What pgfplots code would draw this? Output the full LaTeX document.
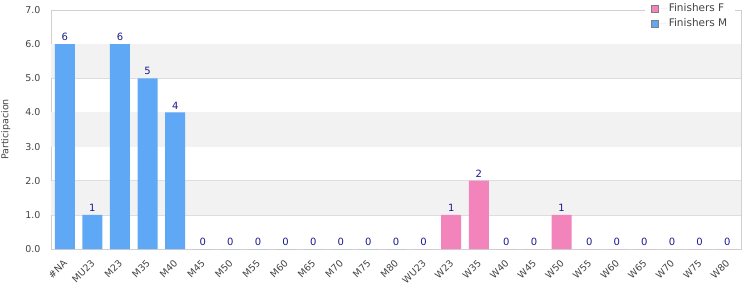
\documentclass[border=0pt]{standalone}
\usepackage{pgfplots}
\pgfplotsset{compat=1.18}
\usepackage{fontspec}
\setmainfont{DejaVu Sans}
\definecolor{barM}{HTML}{5FA8F5}
\definecolor{barF}{HTML}{F283BB}
\definecolor{band}{HTML}{F2F2F2}
\definecolor{gridc}{HTML}{DDDDDD}
\definecolor{borderc}{HTML}{D0D0D0}
\definecolor{tickc}{HTML}{444444}
\definecolor{valc}{HTML}{1A1A8C}
\begin{document}
\begin{tikzpicture}
\useasboundingbox (-51pt,-51pt) rectangle (699pt,249pt);
\begin{axis}[
  at={(0pt,0pt)}, anchor=south west,
  width=690pt, height=239pt, scale only axis,
  xmin=-0.5, xmax=24.5, ymin=0, ymax=7,
  axis line style={draw=borderc},
  xtick={0,...,24},
  xticklabels={\#NA,MU23,M23,M35,M40,M45,M50,M55,M60,M65,M70,M75,M80,WU23,W23,W35,W40,W45,W50,W55,W60,W65,W70,W75,W80},
  x tick label style={xshift=-2pt, yshift=-10pt, rotate=45, anchor=north east, font=\fontsize{9.5}{10}\selectfont, text=tickc, inner sep=0pt},
  ytick={0,1,...,7},
  yticklabel style={font=\fontsize{9.5}{10}\selectfont, text=tickc, xshift=-7pt, /pgf/number format/.cd, fixed, fixed zerofill, precision=1},
  /pgf/number format/assume math mode=true,
  major tick length=0pt,
  ymajorgrids, grid style={draw=gridc, line width=0.6pt},
  ylabel={Participacion},
  ylabel style={font=\fontsize{9.5}{10}\selectfont, text=tickc, at={(axis description cs:-0.0725,0.5)}, anchor=north, inner sep=0pt},
  ybar, bar width=20pt, bar shift=0pt,
  nodes near coords,
  every node near coord/.append style={font=\fontsize{10}{11}\selectfont, text=valc, inner sep=2pt, yshift=1pt},
  legend style={at={(rel axis cs:1,1)}, anchor=north east, xshift=-6pt, yshift=9pt, draw=none, fill=white, font=\fontsize{10.5}{11}\selectfont, text=tickc, row sep=2.5pt, inner xsep=6pt, inner ysep=1pt, nodes={inner sep=1.5pt}},
  legend cell align=left,
  legend image code/.code={\draw[draw=gray, line width=0.5pt, #1] (0pt,-3.5pt) rectangle (7pt,3.5pt); \path (0pt,0pt) -- (16pt,0pt);},
]
\fill[band] (axis cs:-0.5,1) rectangle (axis cs:24.5,2);
\fill[band] (axis cs:-0.5,3) rectangle (axis cs:24.5,4);
\fill[band] (axis cs:-0.5,5) rectangle (axis cs:24.5,6);
\addplot[fill=barF, draw=none] coordinates {(13,0) (14,1) (15,2) (16,0) (17,0) (18,1) (19,0) (20,0) (21,0) (22,0) (23,0) (24,0)};
\addlegendentry{Finishers F}
\addplot[fill=barM, draw=none] coordinates {(0,6) (1,1) (2,6) (3,5) (4,4) (5,0) (6,0) (7,0) (8,0) (9,0) (10,0) (11,0) (12,0)};
\addlegendentry{Finishers M}
\end{axis}
\end{tikzpicture}
\end{document}
